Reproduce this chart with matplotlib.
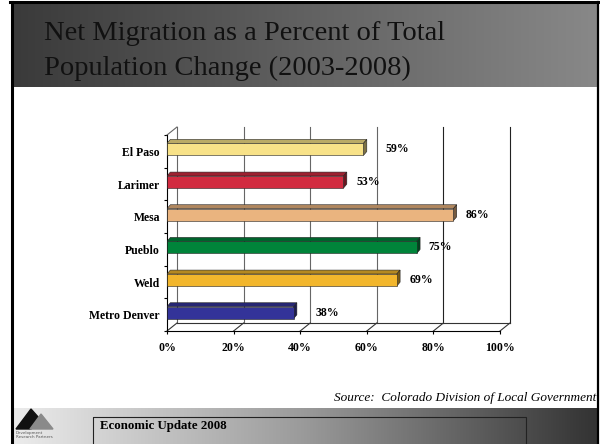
import numpy as np
import matplotlib
matplotlib.use("Agg")
import matplotlib.pyplot as plt
from matplotlib.colors import LinearSegmentedColormap, to_rgb
from matplotlib.patches import Polygon, Rectangle

# data (top to bottom as shown)
counties = ["El Paso", "Larimer", "Mesa", "Pueblo", "Weld", "Metro Denver"]
net_migration_pct = [59, 53, 86, 75, 69, 38]
bar_colors = ["#F8E288", "#D22B40", "#EAB47F", "#00843A", "#F2B62C", "#333399"]
label_offsets = [6.5, 4.0, 3.8, 3.4, 4.0, 6.7]
x_ticks = [0, 20, 40, 60, 80, 100]

title_lines = ["Net Migration as a Percent of Total", "Population Change (2003-2008)"]
source_text = "Source:  Colorado Division of Local Government"
footer_text = "Economic Update 2008"

SERIF = "Liberation Serif"
DX, DY = 3.0, 0.245      # back wall depth in data units
BDX, BDY = 1.0, 0.12     # bar depth
BAR_H = 0.37


def shade(c, f):
    r, g, b = to_rgb(c)
    return (r * f, g * f, b * f)


fig = plt.figure(figsize=(6, 4.44), dpi=100)
fig.patch.set_facecolor("white")

# slide background in pixel coords
bg = fig.add_axes([0, 0, 1, 1], zorder=0)
bg.axis("off")

grad = np.linspace(0, 1, 256).reshape(1, -1)
title_cmap = LinearSegmentedColormap.from_list("t", ["#3a3a3a", "#888888"])
bg.imshow(grad, cmap=title_cmap, extent=[12, 597, 87, 3], aspect="auto")
foot_cmap = LinearSegmentedColormap.from_list("f", ["#ececec", "#9a9a9a", "#333333"])
bg.imshow(grad, cmap=foot_cmap, extent=[12, 597, 444, 408], aspect="auto")
bg.set_xlim(0, 600)
bg.set_ylim(444, 0)

# slide border
bg.plot([11.5, 11.5], [2, 444], color="black", lw=2.2)
bg.plot([10, 598], [2.5, 2.5], color="black", lw=2.2)
bg.plot([597.5, 597.5], [2, 444], color="black", lw=1.6)

bg.text(44, 40, title_lines[0], family=SERIF, fontsize=20.5, color="#111111", va="baseline")
bg.text(44, 75, title_lines[1], family=SERIF, fontsize=20.5, color="#111111", va="baseline")

bg.text(596, 398, source_text, family=SERIF, style="italic", fontsize=9.5,
        ha="right", va="center")

bg.add_patch(Rectangle((93, 417), 433, 30, fill=False, edgecolor="#222222", lw=0.8))
bg.text(100, 426, footer_text, family=SERIF, weight="bold", fontsize=9.3, va="center")

# logo
bg.add_patch(Polygon([(16, 429), (31, 409), (39, 418), (31, 429)], color="#111111"))
bg.add_patch(Polygon([(30, 429), (41, 414), (53, 429)], color="#8a8a8a"))
bg.text(16, 431, "Development\nResearch Partners", fontsize=2.9, color="#555555",
        va="top", linespacing=0.9)

# chart
ax = fig.add_axes([167 / 600, 113 / 444, 333 / 600, 196 / 444], zorder=1)
ax.set_facecolor("none")
ax.set_xlim(0, 100)
ax.set_ylim(-0.5, 5.5)
for s in ax.spines.values():
    s.set_visible(False)

# back wall and floor
for x in x_ticks:
    wall = "#222222" if x >= 80 else "#666666"
    ax.plot([x + DX, x + DX], [-0.5 + DY, 5.5 + DY], color=wall, lw=0.8, clip_on=False)
    ax.plot([x, x + DX], [-0.5, -0.5 + DY], color="#333333", lw=0.8, clip_on=False)
ax.plot([DX, 100 + DX], [-0.5 + DY, -0.5 + DY], color="#333333", lw=0.8, clip_on=False)
ax.plot([0, DX], [5.5, 5.5 + DY], color="#666666", lw=0.8, clip_on=False)
# front axes
ax.plot([0, 0], [-0.5, 5.5], color="black", lw=0.8, clip_on=False)
ax.plot([0, 100], [-0.5, -0.5], color="black", lw=0.8, clip_on=False)

ypos = np.arange(len(counties))[::-1] + 0.06
for y, v, c, off in zip(ypos, net_migration_pct, bar_colors, label_offsets):
    top = y + BAR_H / 2
    bot = y - BAR_H / 2
    ax.add_patch(Polygon([(0, top), (v, top), (v + BDX, top + BDY), (BDX, top + BDY)],
                         facecolor=shade(c, 0.75), edgecolor="#222222", lw=0.4, zorder=3))
    ax.add_patch(Polygon([(v, bot), (v + BDX, bot + BDY), (v + BDX, top + BDY), (v, top)],
                         facecolor=shade(c, 0.5), edgecolor="#222222", lw=0.4, zorder=3))
    ax.barh(y, v, height=BAR_H, color=c, edgecolor="#222222", lw=0.4, zorder=4)
    ax.text(v + off, y, f"{v}%", family=SERIF, weight="bold", fontsize=8.5,
            va="center", ha="left", zorder=5)

ax.set_xticks(x_ticks)
ax.set_xticklabels([f"{t}%" for t in x_ticks], family=SERIF, weight="bold", fontsize=8.5)
ax.tick_params(axis="x", length=2.2, width=0.8, pad=5.8)
ax.set_yticks(np.arange(len(counties))[::-1])
ax.set_yticklabels(counties, family=SERIF, weight="bold", fontsize=8.5)
ax.tick_params(axis="y", length=0, pad=5)
ax.set_yticks(np.arange(-0.5, 6, 1.0), minor=True)
ax.tick_params(axis="y", which="minor", length=2.2, width=0.8)

fig.savefig("out.png", dpi=100)
